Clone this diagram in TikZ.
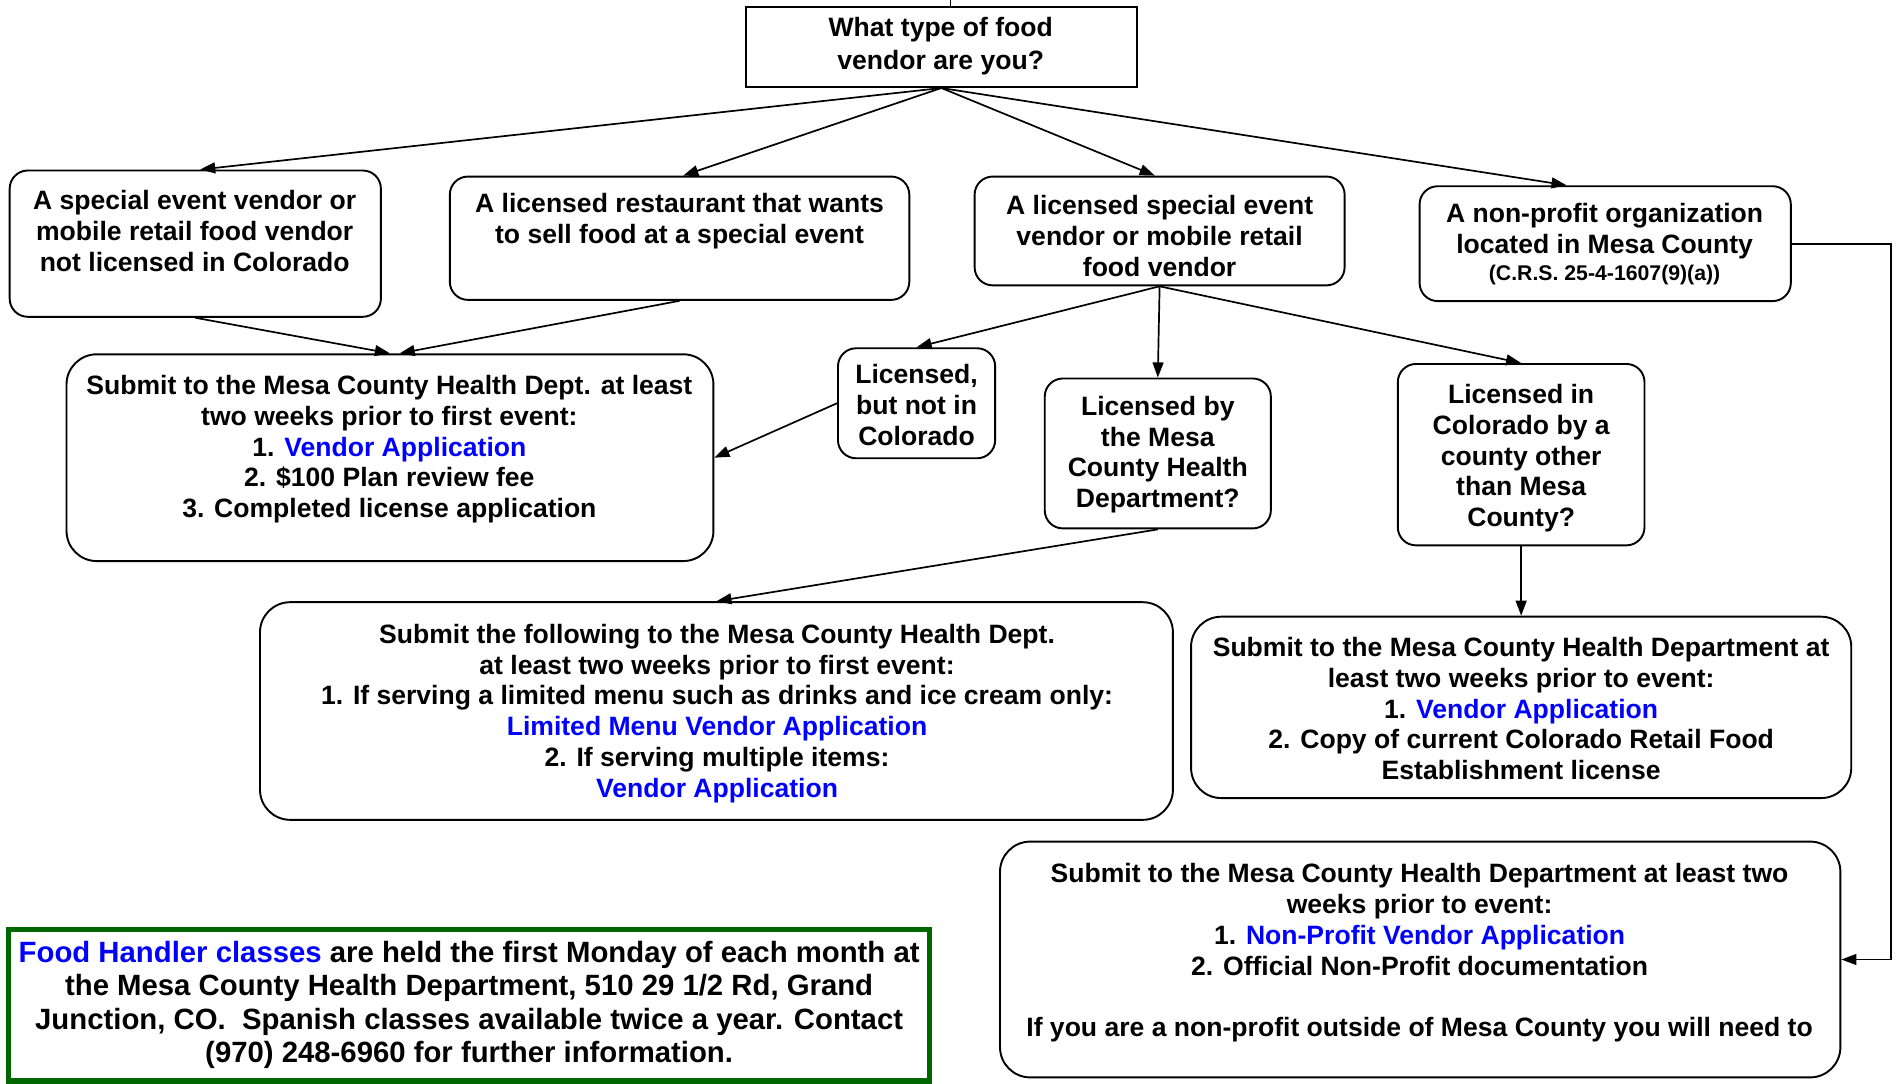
\documentclass[tikz,border=0pt]{standalone}
\usepackage{fontspec}
\setmainfont{Liberation Sans}
\usetikzlibrary{arrows.meta,calc,fit}
\definecolor{linkblue}{RGB}{0,0,255}
\definecolor{classgreen}{RGB}{0,102,0}
\def\lnk#1{\textcolor{linkblue}{#1}}
\tikzset{
  frame/.style={draw, line width=0.9pt, rounded corners=0.3cm, inner sep=0pt},
  bigframe/.style={frame, rounded corners=0.5cm},
  sqframe/.style={draw, line width=0.9pt, inner sep=0pt},
  txt/.style={align=center, inner sep=0pt, font=\bfseries\fontsize{12.5}{14.5}\selectfont},
  arr/.style={line width=0.8pt, -{Triangle[length=0.25cm,width=0.18cm]}},
}

\begin{document}
\begin{tikzpicture}[x=0.02cm, y=-0.02cm]
		%%%%% START %%%%%
		\useasboundingbox (0,0) rectangle (1568,896);
		
		% question
		\node[sqframe, fit={(617,6) (940,72)}] (q) {};
		\node[txt, font=\bfseries\fontsize{12.5}{15.5}\selectfont] (q-t) at (778,38) {What type of food\\vendor are you?};
		\coordinate (stub) at (786,0);
		\draw[line width=0.8pt] (stub) -- (stub |- q.north);
		
		% vendor types
		\node[frame, fit={(8,141) (315,262)}] (a) {};
		\node[txt] (a-t) at (161,191) {A special event vendor or\\mobile retail food vendor\\not licensed in Colorado};
		
		\node[frame, fit={(372,146) (752,248)}] (b) {};
		\node[txt] (b-t) at (562,183) {A licensed restaurant that wants\\to sell food at a special event};
		
		\node[frame, fit={(806,146) (1112,236)}] (c) {};
		\node[txt] (c-t) at (959,195) {A licensed special event\\vendor or mobile retail\\food vendor};
		
		\node[frame, fit={(1174,154) (1481,249)}] (d) {};
		\node[txt] (d-t) at (1327,202) {A non-profit organization\\located in Mesa County\\[-1.5pt]{\fontsize{10}{11.5}\selectfont (C.R.S. 25-4-1607(9)(a))}};
		
		% second row
		\node[bigframe, fit={(55,293) (590,464)}] (e) {};
		\node[txt] (e-t) at (322,371.5) {Submit to the Mesa County Health Dept. at least\\two weeks prior to first event:\\1. \lnk{Vendor Application}\\2. \$100 Plan review fee\\3. Completed license application};
		
		\node[frame, fit={(693,288) (823,379)}] (f) {};
		\node[txt] (f-t) at (758,335) {Licensed,\\but not in\\Colorado};
		
		\node[frame, fit={(864,313) (1051,437)}] (g) {};
		\node[txt] (g-t) at (957.5,376) {Licensed by\\the Mesa\\County Health\\Department?};
		
		\node[frame, fit={(1156,301) (1360,451)}] (h) {};
		\node[txt] (h-t) at (1258,379) {Licensed in\\Colorado by a\\county other\\than Mesa\\County?};
		
		% submissions
		\node[bigframe, fit={(215,498) (970,678)}] (i) {};
		\node[txt] (i-t) at (593,590) {Submit the following to the Mesa County Health Dept.\\at least two weeks prior to first event:\\1. If serving a limited menu such as drinks and ice cream only:\\\lnk{Limited Menu Vendor Application}\\2. If serving multiple items:\\\lnk{Vendor Application}};
		
		\node[bigframe, fit={(985,510) (1531,660)}] (j) {};
		\node[txt] (j-t) at (1258,586) {Submit to the Mesa County Health Department at\\least two weeks prior to event:\\1. \lnk{Vendor Application}\\2. Copy of current Colorado Retail Food\\Establishment license};
		
		\node[bigframe, fit={(827,696) (1522,891)}] (k) {};
		\node[txt] (k-t) at (1174,788) {Submit to the Mesa County Health Department at least two\\weeks prior to event:\\1. \lnk{Non-Profit Vendor Application}\\2. Official Non-Profit documentation\\[14.5pt]If you are a non-profit outside of Mesa County you will need to};
		
		% classes
		\node[draw=classgreen, line width=2.4pt, inner sep=0pt, fit={(7,769) (769,894)}] (l) {};
		\node[txt, font=\bfseries\fontsize{13.8}{15.8}\selectfont] (l-t) at (388,831) {\lnk{Food Handler classes} are held the first Monday of each month at\\the Mesa County Health Department, 510 29 1/2 Rd, Grand\\Junction, CO.\ \ Spanish classes available twice a year. Contact\\(970) 248-6960 for further information.};
		
		% connectors
		\draw[arr] (q.south) -- ($(a.north)+(4,0)$);
		\draw[arr] (q.south) -- ($(b.north)+(3,0)$);
		\draw[arr] (q.south) -- ($(c.north)+(-4,0)$);
		\draw[arr] (q.south) -- ($(d.north)+(-32,0)$);
		\draw[arr] (a.south) -- (e.north);
		\draw[arr] (b.south) -- ($(e.north)+(8,0)$);
		\draw[arr] (c.south) -- (f.north);
		\draw[arr] (c.south) -- (g.north);
		\draw[arr] (c.south) -- (h.north);
		\draw[arr] (f.west) -- (e.east);
		\draw[arr] (g.south) -- (i.north);
		\draw[arr] (h.south) -- (j.north);
		\draw[arr] (d.east) -- ++(82,0) |- (k.east);
		%%%%% END %%%%%
\end{tikzpicture}
\end{document}
